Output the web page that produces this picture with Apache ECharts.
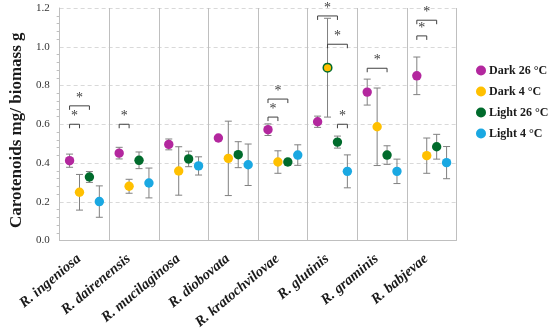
<!DOCTYPE html>
<html><head><meta charset="utf-8">
<script src="https://cdn.jsdelivr.net/npm/echarts@6/dist/echarts.min.js"></script>
<style>html,body{margin:0;padding:0;background:#fff}#c{width:550px;height:332px}</style>
</head><body><div id="c"></div>
<script>
const categories = ['R. ingeniosa','R. dairenensis','R. mucilaginosa','R. diobovata','R. kratochvilovae','R. glutinis','R. graminis','R. babjevae'];
const seriesNames = ['Dark 26 °C','Dark 4 °C','Light 26 °C','Light 4 °C'];
const dark26Mean  = [0.412,0.451,0.496,0.529,0.572,0.613,0.766,0.850];
const dark26Err   = [0.034,0.030,0.028,0.008,0.030,0.029,0.067,0.097];
const dark4Mean   = [0.249,0.280,0.359,0.424,0.405,0.892,0.587,0.438];
const dark4Err    = [0.092,0.036,0.125,0.192,0.058,0.255,0.200,0.091];
const light26Mean = [0.328,0.414,0.421,0.443,0.405,0.508,0.441,0.484];
const light26Err  = [0.028,0.043,0.040,0.067,0.015,0.031,0.048,0.064];
const light4Mean  = [0.201,0.297,0.385,0.391,0.441,0.357,0.357,0.402];
const light4Err   = [0.081,0.077,0.047,0.107,0.053,0.085,0.063,0.083];
// significance brackets: [category index, from series, to series, level]
const brackets = [[0,0,1,0.600],[0,0,2,0.695],[1,0,1,0.600],[4,0,1,0.637],[4,0,2,0.730],
                  [5,0,2,1.159],[5,1,3,1.013],[5,2,3,0.600],[6,0,2,0.889],[7,0,1,1.056],[7,0,2,1.137]];
const yTicks = [0,0.2,0.4,0.6,0.8,1.0,1.2];
// outlined point: [series index, category index]
const outlined = [[1,5]];

const means = [dark26Mean,dark4Mean,light26Mean,light4Mean];
const errs = [dark26Err,dark4Err,light26Err,light4Err];
const colors = ['#B3279E','#FFC000','#006B2C','#1AA8E2'];
const offsets = [-0.3,-0.1,0.1,0.3];
const serif = 'Liberation Serif';

function pointSeries(s){
  return {
    type:'custom', name:seriesNames[s], itemStyle:{color:colors[s]},
    data: means[s].map((m,i)=>[i,m,m-errs[s][i],m+errs[s][i]]),
    renderItem:(params,api)=>{
      const cat=api.value(0);
      const bw=api.size([1,0])[0];
      const dx=offsets[s]*bw;
      const c=api.coord([cat,api.value(1)]);
      const lo=api.coord([cat,api.value(2)]);
      const hi=api.coord([cat,api.value(3)]);
      const x=c[0]+dx, cw=3.5;
      const isOut = outlined.some(o=>o[0]===s&&o[1]===cat);
      return {type:'group',children:[
        {type:'line',shape:{x1:x,y1:lo[1],x2:x,y2:hi[1]},style:{stroke:'#808080',lineWidth:1}},
        {type:'line',shape:{x1:x-cw,y1:lo[1],x2:x+cw,y2:lo[1]},style:{stroke:'#808080',lineWidth:1}},
        {type:'line',shape:{x1:x-cw,y1:hi[1],x2:x+cw,y2:hi[1]},style:{stroke:'#808080',lineWidth:1}},
        {type:'circle',shape:{cx:x,cy:c[1],r:isOut?4.3:4.7},
         style:isOut?{fill:colors[s],stroke:colors[2],lineWidth:1.5}:{fill:colors[s]}}
      ]};
    }
  };
}

const bracketSeries = {
  type:'custom', name:'sig', silent:true,
  data: brackets,
  renderItem:(params,api)=>{
    const cat=api.value(0), a=api.value(1), b=api.value(2), lv=api.value(3);
    const bw=api.size([1,0])[0];
    const p=api.coord([cat,lv]);
    const x1=p[0]+offsets[a]*bw, x2=p[0]+offsets[b]*bw, y=p[1], t=4;
    const st={stroke:'#404040',lineWidth:1,fill:null};
    return {type:'group',children:[
      {type:'polyline',shape:{points:[[x1,y+t],[x1,y],[x2,y],[x2,y+t]]},style:st},
      {type:'text',x:(x1+x2)/2,y:y-1,style:{text:'*',fill:'#404040',font:'14px '+serif,align:'center',verticalAlign:'bottom'}}
    ]};
  }
};

const chart = echarts.init(document.getElementById('c'),null,{renderer:'canvas'});
chart.setOption({
  animation:false,
  grid:{left:48,right:93.5,top:8,bottom:91,containLabel:false},
  legend:{orient:'vertical',left:471,top:59.5,icon:'circle',itemWidth:10,itemHeight:10,itemGap:9,
    data:seriesNames,
    textStyle:{fontFamily:serif,fontWeight:'bold',fontSize:12,color:'#1a1a1a',padding:[0,0,0,-2]}},
  xAxis:{type:'category',data:categories,boundaryGap:true,
    axisLine:{lineStyle:{color:'#BFBFBF'}},axisTick:{show:false},
    splitLine:{show:true,lineStyle:{color:'#BFBFBF',width:1}},
    axisLabel:{rotate:40,margin:12,padding:[0,7,0,0],fontFamily:serif,fontStyle:'italic',fontWeight:'bold',fontSize:14.5,color:'#1a1a1a',interval:0}},
  yAxis:{type:'value',min:0,max:1.2,interval:0.2,
    name:'Carotenoids mg/ biomass g',nameLocation:'middle',nameGap:26,
    nameTextStyle:{fontFamily:serif,fontWeight:'bold',fontSize:17,color:'#1a1a1a',padding:[0,12,0,0]},
    axisLine:{show:true,lineStyle:{color:'#BFBFBF'}},axisTick:{show:false},
    minorTick:{show:true,splitNumber:5,length:3,lineStyle:{color:'#BFBFBF'}},
    axisLabel:{fontFamily:serif,fontSize:11,color:'#333',margin:10,formatter:v=>{const t=yTicks.find(k=>Math.abs(k-v)<1e-6);return (t!==undefined?t:v).toFixed(1);}},
    splitLine:{show:true,lineStyle:{color:'#D9D9D9',type:[4,3]}}},
  series:[pointSeries(0),pointSeries(1),pointSeries(2),pointSeries(3),bracketSeries]
});
</script></body></html>
